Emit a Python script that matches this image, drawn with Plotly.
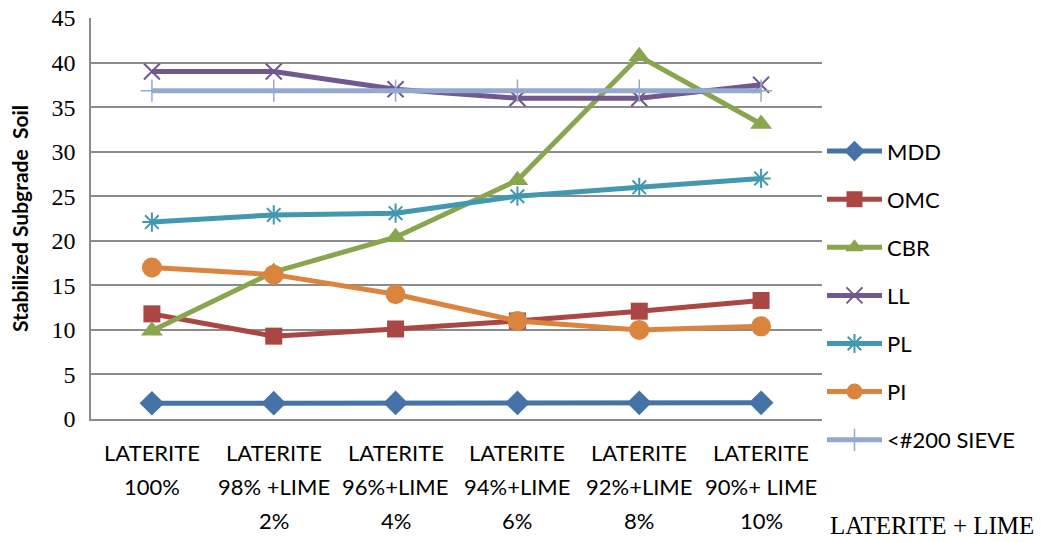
import plotly.graph_objects as go

# Mix designs along the x axis (key) and the lines shown beneath each one
categories = ["L100", "L98", "L96", "L94", "L92", "L90"]
cat_lines = [
    ["LATERITE", "100%", ""],
    ["LATERITE", "98% +LIME", "2%"],
    ["LATERITE", "96%+LIME", "4%"],
    ["LATERITE", "94%+LIME", "6%"],
    ["LATERITE", "92%+LIME", "8%"],
    ["LATERITE", "90%+ LIME", "10%"],
]

# Test results for the stabilized subgrade soil
mdd = [1.77, 1.78, 1.80, 1.80, 1.82, 1.82]
omc = [11.8, 9.3, 10.1, 11.0, 12.1, 13.3]
cbr = [9.9, 16.5, 20.4, 26.8, 40.7, 33.1]
ll = [39.0, 39.0, 37.0, 36.0, 36.0, 37.5]
pl = [22.1, 22.9, 23.1, 25.0, 26.0, 27.0]
pi = [17.0, 16.2, 14.0, 11.0, 10.0, 10.4]
sieve200 = [36.85, 36.85, 36.85, 36.85, 36.85, 36.85]

y_ticks = [0, 5, 10, 15, 20, 25, 30, 35, 40, 45]

series = [
    ("MDD", mdd, "#4572A7", "diamond", 19, 0),
    ("OMC", omc, "#AA4643", "square", 17, 0),
    ("CBR", cbr, "#89A54E", "triangle-up", 19, 0),
    ("LL", ll, "#71588F", "x-thin-open", 16, 2),
    ("PL", pl, "#4198AF", "asterisk-open", 16, 2),
    ("PI", pi, "#DB843D", "circle", 20, 0),
    ("<#200 SIEVE", sieve200, "#93A9CF", "cross-thin-open", 16, 1.5),
]

fig = go.Figure()
for name, vals, color, symbol, size, mlw in series:
    fig.add_trace(go.Scatter(
        x=categories, y=vals, name=name, legendgroup=name,
        mode="lines+markers",
        line=dict(color=color, width=5),
        marker=dict(symbol=symbol, size=size, color=color,
                    line=dict(color=color, width=mlw)),
    ))

# Multi-line category labels under the axis
annotations = []
for cat, lines in zip(categories, cat_lines):
    for k, txt in enumerate(lines):
        if not txt:
            continue
        annotations.append(dict(
            x=cat, xref="x", y=0, yref="paper", yanchor="middle",
            yshift=-33 - 34 * k, text=txt, showarrow=False,
            font=dict(family="Lato", size=22, color="#000000"),
        ))

# x axis title, bottom right
annotations.append(dict(
    x=1.2914, xref="paper", y=0, yref="paper",
    text="LATERITE + LIME", showarrow=False,
    xanchor="right", yanchor="middle", yshift=-106, borderpad=0,
    font=dict(family="Liberation Serif", size=25, color="#000000"),
))

fig.update_layout(
    width=1042, height=542,
    margin=dict(l=91, r=220, t=18, b=123, autoexpand=False),
    paper_bgcolor="white", plot_bgcolor="white",
    showlegend=True,
    legend=dict(
        x=1.0, xanchor="left", y=0.72, yanchor="top",
        traceorder="grouped", tracegroupgap=16.5, itemwidth=55,
        font=dict(family="Lato", size=22, color="#000000"),
        bgcolor="rgba(0,0,0,0)",
    ),
    annotations=annotations,
)

fig.update_xaxes(
    type="category", categoryorder="array", categoryarray=categories,
    showticklabels=False, showgrid=False, ticks="", automargin=False,
    showline=True, linecolor="#8C8C8C", linewidth=1.5,
    range=[-0.5, len(categories) - 0.5],
)
fig.update_yaxes(
    range=[0, 45], tickvals=y_ticks, ticks="", automargin=False,
    showgrid=True, gridcolor="#8C8C8C", gridwidth=1.5,
    showline=True, linecolor="#8C8C8C", linewidth=1.5,
    zeroline=False, ticklabelstandoff=9,
    tickfont=dict(family="Liberation Serif", size=24, color="#000000"),
    title=dict(text="<b>Stabilized Subgrade  Soil</b>", standoff=17,
               font=dict(family="Lato", size=21, color="#000000")),
)

fig.write_html("out.html")
